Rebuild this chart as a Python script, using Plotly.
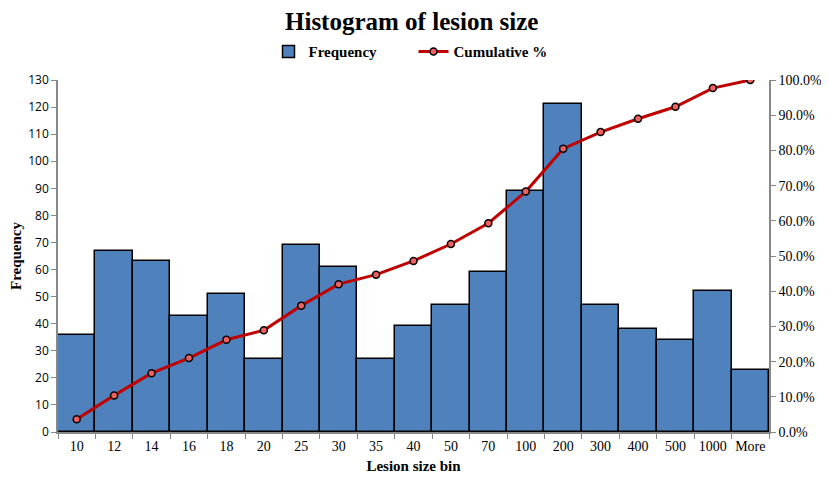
import plotly.graph_objects as go

# bins and values
bins = ["10", "12", "14", "16", "18", "20", "25", "30", "35", "40", "50",
        "70", "100", "200", "300", "400", "500", "1000", "More"]
frequency = [36, 67, 63, 43, 51, 27, 69, 61, 27, 39, 47, 59, 89, 121, 47, 38, 34, 52, 23]
cumulative_pct = [3.6, 10.4, 16.7, 21.0, 26.2, 28.9, 35.9, 42.0, 44.7, 48.6, 53.4,
                  59.3, 68.3, 80.5, 85.2, 89.0, 92.4, 97.7, 100.0]

serif = "Times New Roman, Liberation Serif, serif"

fig = go.Figure()
fig.add_trace(go.Bar(
    x=bins, y=frequency, name="Frequency",
    marker=dict(color="#4F81BD", line=dict(color="black", width=1.5)),
))
fig.add_trace(go.Scatter(
    x=bins, y=cumulative_pct, name="Cumulative %", yaxis="y2",
    mode="lines+markers",
    line=dict(color="#C00000", width=3),
    marker=dict(color="#F06060", size=7, line=dict(color="black", width=1.5)),
))

fig.update_layout(
    width=829, height=479,
    margin=dict(l=50, r=68, t=72, b=55, autoexpand=False),
    paper_bgcolor="white", plot_bgcolor="white",
    bargap=0,
    title=dict(text="<b>Histogram of lesion size</b>", x=0.487, xanchor="center",
               y=0.99, yanchor="top",
               font=dict(family=serif, size=25, color="black")),
    legend=dict(orientation="h", x=0.5, xanchor="center", y=1.08, yanchor="middle",
                font=dict(family=serif, size=15, color="black", weight="bold"),
                itemwidth=30, entrywidth=100, tracegroupgap=0),
    showlegend=True,
    xaxis=dict(
        title=dict(text="<b>Lesion size bin</b>", standoff=8,
                   font=dict(family=serif, size=15, color="black")),
        range=[-0.5, 18.5],
        tickfont=dict(family=serif, size=14, color="black"), tickangle=0,
        showline=True, linecolor="#888888", linewidth=1.5,
        ticks="outside", tickson="boundaries", ticklen=5, tickcolor="#888888",
        showgrid=False, automargin=False,
    ),
    yaxis=dict(
        title=dict(text="<b>Frequency</b>", standoff=8,
                   font=dict(family=serif, size=15, color="black")),
        range=[0, 130], dtick=10,
        tickfont=dict(family="Open Sans, Liberation Sans, sans-serif", size=12, color="black"),
        showline=True, linecolor="#888888", linewidth=1.5,
        ticks="outside", ticklen=5, tickcolor="#888888",
        showgrid=False, zeroline=False, automargin=False,
    ),
    yaxis2=dict(
        overlaying="y", side="right",
        range=[0, 100], dtick=10, ticksuffix="%", tickformat=".1f",
        tickfont=dict(family=serif, size=14, color="black"),
        showline=True, linecolor="#888888", linewidth=1.5,
        ticks="outside", ticklen=5, tickcolor="#888888",
        showgrid=False, zeroline=False, automargin=False,
    ),
)

fig.write_html("out.html")
